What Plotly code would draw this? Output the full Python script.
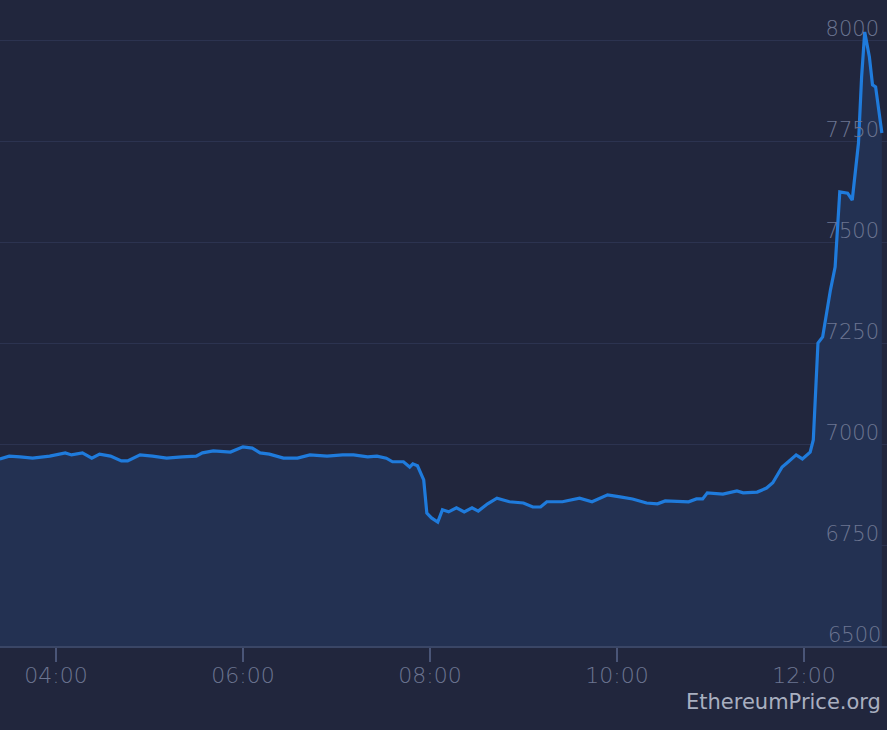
import plotly.graph_objects as go

DAY = "2021-01-01 "

times = [
    "03:24", "03:30", "03:37", "03:45", "03:56", "04:06", "04:10", "04:17", "04:23", "04:28",
    "04:35", "04:42", "04:46", "04:54", "05:02", "05:11", "05:21", "05:30", "05:34", "05:41",
    "05:52", "06:00", "06:06", "06:11", "06:17", "06:26", "06:35", "06:43", "06:54", "07:04",
    "07:11", "07:20", "07:26", "07:32", "07:36", "07:43", "07:47", "07:49", "07:52", "07:56",
    "07:58", "08:01", "08:05", "08:08", "08:12", "08:17", "08:22", "08:27", "08:31", "08:37",
    "08:43", "08:47", "08:51", "09:00", "09:06", "09:11", "09:15", "09:25", "09:36", "09:44",
    "09:54", "10:02", "10:10", "10:19", "10:26", "10:31", "10:40", "10:46", "10:51", "10:55",
    "10:58", "11:08", "11:17", "11:21", "11:30", "11:36", "11:40", "11:46", "11:50", "11:55",
    "11:59", "12:04", "12:06", "12:09", "12:12", "12:17", "12:20", "12:23", "12:28", "12:31",
    "12:35", "12:37", "12:39", "12:42", "12:44", "12:46", "12:50",
]

prices = [
    6963, 6970, 6968, 6965, 6970, 6978, 6973, 6978, 6965, 6975,
    6970, 6958, 6958, 6973, 6970, 6965, 6968, 6970, 6978, 6983,
    6980, 6993, 6990, 6978, 6975, 6965, 6965, 6973, 6970, 6973,
    6973, 6968, 6970, 6965, 6956, 6956, 6943, 6951, 6946, 6911,
    6829, 6817, 6807, 6837, 6832, 6842, 6832, 6842, 6834, 6852,
    6866, 6861, 6857, 6854, 6844, 6844, 6857, 6857, 6866, 6857,
    6874, 6869, 6864, 6854, 6852, 6859, 6857, 6857, 6864, 6864,
    6879, 6876, 6884, 6879, 6881, 6891, 6904, 6943, 6956, 6973,
    6963, 6980, 7010, 7250, 7265, 7381, 7438, 7624, 7621, 7604,
    7745, 7908, 8020, 7958, 7889, 7884, 7770,
]

y_ticks = [6500, 6750, 7000, 7250, 7500, 7750, 8000]
x_range = ["03:24:06", "12:53:18"]
y_range = [6500, 8099]
watermark = "EthereumPrice.org"

x_vals = [DAY + t for t in times]

BG = "#21263d"
FILL = "#233152"
LINE = "#1f7bdc"
GRID = "#2c3350"
TICKTXT = "#6c7591"
TICKFONT_Y = dict(family="DejaVu Sans", size=21, color=TICKTXT, weight=200)

fig = go.Figure()
fig.add_trace(go.Scatter(
    x=x_vals, y=prices, mode="lines",
    line=dict(color=LINE, width=3.2, shape="linear"),
    fill="tozeroy", fillcolor=FILL,
    hoverinfo="skip", showlegend=False,
))

fig.update_layout(
    width=887, height=730,
    margin=dict(l=0, r=0, t=0, b=84),
    paper_bgcolor=BG, plot_bgcolor=BG,
    font=dict(family="DejaVu Sans", color=TICKTXT, size=21),
    xaxis=dict(
        type="date",
        range=[DAY + x_range[0], DAY + x_range[1]],
        tickformat="%H:%M",
        tick0=DAY + "04:00", dtick=2 * 3600 * 1000,
        ticks="outside", ticklen=14, tickwidth=1.5, tickcolor="#4a5577",
        showgrid=False, zeroline=False,
        showline=True, linecolor="#3a4666", linewidth=1.5,
        ticklabelstandoff=-5,
        tickfont=dict(family="DejaVu Sans", size=22, color=TICKTXT, weight=200),
        fixedrange=True,
    ),
    yaxis=dict(
        range=y_range,
        side="right",
        tickvals=y_ticks,
        ticktext=[str(v) for v in y_ticks],
        ticklabelposition="inside",
        ticklabelshift=-11,
        ticklabelstandoff=5,
        showgrid=True, gridcolor=GRID, gridwidth=1,
        zeroline=False, showline=False, ticks="",
        tickfont=TICKFONT_Y,
        fixedrange=True,
    ),
)

# lowest tick label sits on the x axis line, where Plotly hides inside labels
fig.add_annotation(
    text=str(y_ticks[0]), xref="paper", yref="y",
    x=1, y=y_ticks[0], xanchor="right", yanchor="middle",
    xshift=-5, yshift=11, showarrow=False, borderpad=0,
    font=TICKFONT_Y,
)

fig.add_annotation(
    text=watermark, xref="paper", yref="paper",
    x=1, y=0, xanchor="right", yanchor="top",
    yshift=-42, xshift=-4, showarrow=False,
    font=dict(family="DejaVu Sans", size=21, color="#a9afc0"),
)

fig.write_html(
    "out.html",
    config={"displayModeBar": False, "staticPlot": True},
    post_script="document.body.style.margin='0';document.body.style.overflow='hidden';",
)
